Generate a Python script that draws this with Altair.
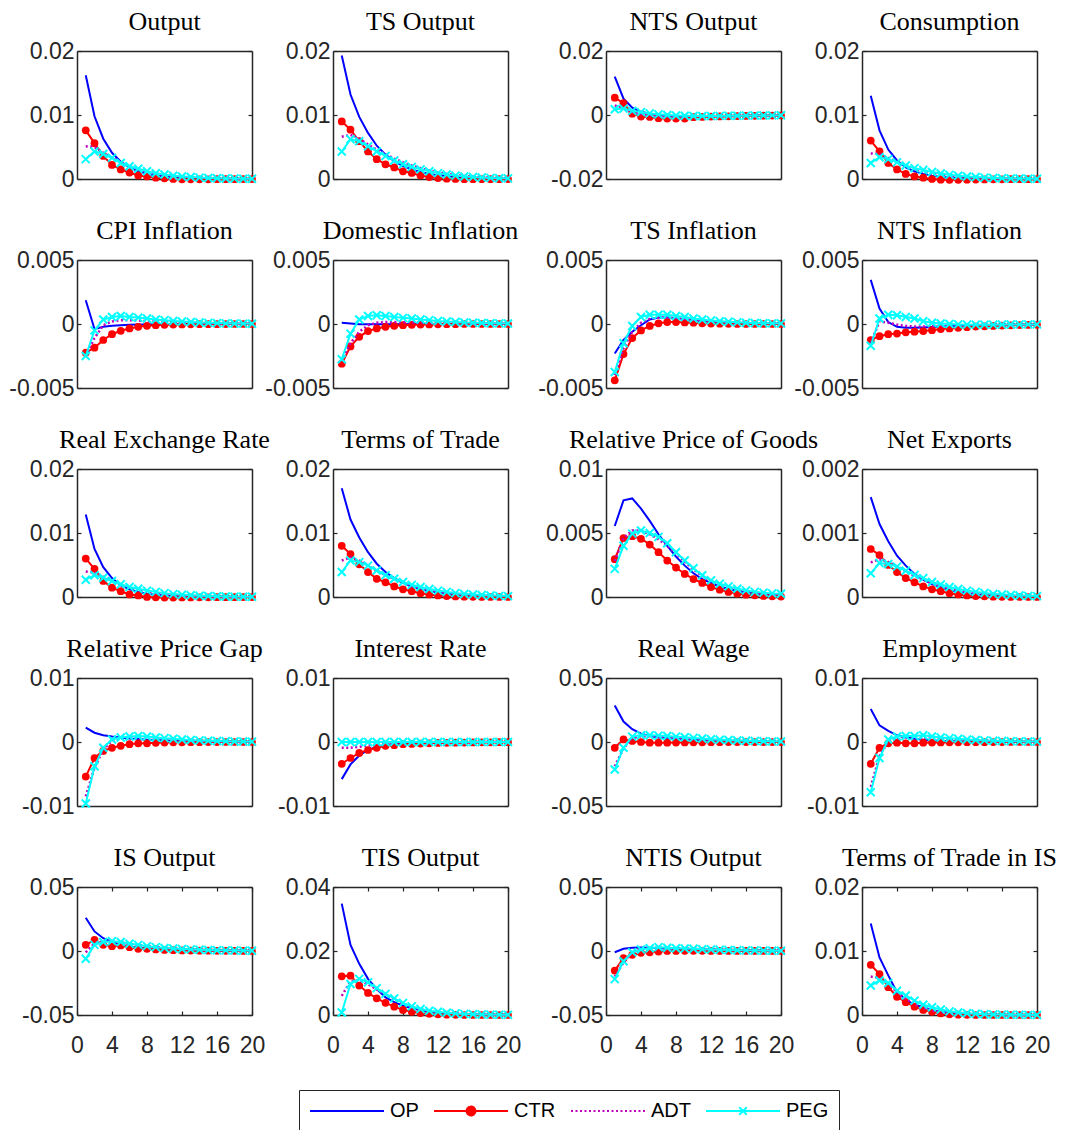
import altair as alt
import pandas as pd

# All series values below are listed in thousandths (multiply by UNIT).
UNIT = 1e-3

PERIODS = list(range(1, 21))
SERIES = ["OP", "CTR", "ADT", "PEG"]
SERIES_COLORS = ["#0000FF", "#FF0000", "#BF00BF", "#00FFFF"]
X_TICKS = [0, 4, 8, 12, 16, 20]

TITLES = [
    "Output", "TS Output", "NTS Output", "Consumption",
    "CPI Inflation", "Domestic Inflation", "TS Inflation", "NTS Inflation",
    "Real Exchange Rate", "Terms of Trade", "Relative Price of Goods", "Net Exports",
    "Relative Price Gap", "Interest Rate", "Real Wage", "Employment",
    "IS Output", "TIS Output", "NTIS Output", "Terms of Trade in IS",
]

Y_TICKS = [
    [0, 0.01, 0.02], [0, 0.01, 0.02], [-0.02, 0, 0.02], [0, 0.01, 0.02],
    [-0.005, 0, 0.005], [-0.005, 0, 0.005], [-0.005, 0, 0.005], [-0.005, 0, 0.005],
    [0, 0.01, 0.02], [0, 0.01, 0.02], [0, 0.005, 0.01], [0, 0.001, 0.002],
    [-0.01, 0, 0.01], [-0.01, 0, 0.01], [-0.05, 0, 0.05], [-0.01, 0, 0.01],
    [-0.05, 0, 0.05], [0, 0.02, 0.04], [-0.05, 0, 0.05], [0, 0.01, 0.02],
]

output = {
    "OP": [16.2, 9.8, 6.3, 4.1, 2.7, 1.8, 1.2, 0.8, 0.55, 0.38, 0.26, 0.18, 0.12, 0.08, 0.06, 0.04, 0.03, 0.02, 0.014, 0.01],
    "CTR": [7.6, 5.6, 3.6, 2.2, 1.5, 1.0, 0.55, 0.4, 0.2, 0.1, 0.0, -0.05, -0.05, -0.05, -0.04, -0.03, -0.02, -0.02, -0.01, -0.01],
    "ADT": [5.1, 5.0, 4.1, 3.3, 2.6, 2.0, 1.5, 1.15, 0.85, 0.65, 0.48, 0.36, 0.27, 0.2, 0.15, 0.11, 0.08, 0.06, 0.045, 0.035],
    "PEG": [3.1, 4.3, 3.9, 3.3, 2.5, 2.0, 1.6, 1.2, 0.9, 0.7, 0.52, 0.4, 0.3, 0.22, 0.16, 0.12, 0.09, 0.07, 0.05, 0.04],
}
ts_output = {
    "OP": [19.3, 13.2, 9.7, 7.2, 5.2, 3.8, 2.8, 2.0, 1.5, 1.1, 0.8, 0.6, 0.42, 0.3, 0.22, 0.16, 0.12, 0.08, 0.06, 0.04],
    "CTR": [9.0, 7.7, 5.9, 4.3, 3.1, 2.3, 1.8, 1.2, 0.95, 0.55, 0.3, 0.15, 0.05, 0.0, -0.03, -0.03, -0.03, -0.02, -0.02, -0.01],
    "ADT": [6.6, 6.9, 6.3, 5.4, 4.6, 3.9, 3.2, 2.6, 2.1, 1.7, 1.3, 1.0, 0.8, 0.6, 0.48, 0.37, 0.28, 0.21, 0.16, 0.12],
    "PEG": [4.3, 6.2, 5.9, 5.1, 4.3, 3.6, 2.9, 2.3, 1.9, 1.5, 1.2, 0.92, 0.7, 0.53, 0.4, 0.3, 0.23, 0.17, 0.13, 0.1],
}
nts_output = {
    "OP": [12.0, 5.1, 2.3, 1.0, 0.4, 0.0, -0.3, -0.45, -0.5, -0.5, -0.45, -0.4, -0.35, -0.3, -0.25, -0.2, -0.16, -0.13, -0.1, -0.08],
    "CTR": [5.4, 3.7, 0.4, -0.5, -0.6, -1.0, -1.1, -1.1, -1.1, -0.7, -0.6, -0.5, -0.45, -0.4, -0.35, -0.3, -0.25, -0.2, -0.17, -0.14],
    "ADT": [3.0, 2.0, 0.9, 0.3, -0.1, -0.35, -0.5, -0.55, -0.55, -0.5, -0.45, -0.4, -0.35, -0.3, -0.25, -0.2, -0.17, -0.14, -0.11, -0.09],
    "PEG": [1.8, 2.0, 1.3, 0.9, 0.5, 0.2, 0.0, -0.15, -0.25, -0.3, -0.3, -0.3, -0.28, -0.25, -0.22, -0.2, -0.17, -0.14, -0.12, -0.1],
}
consumption = {
    "OP": [13.0, 7.6, 4.6, 2.9, 1.8, 1.2, 0.8, 0.5, 0.35, 0.25, 0.17, 0.12, 0.08, 0.06, 0.04, 0.03, 0.02, 0.015, 0.01, 0.01],
    "CTR": [6.0, 4.3, 2.5, 1.5, 0.8, 0.4, 0.2, 0.0, -0.1, -0.12, -0.12, -0.1, -0.08, -0.07, -0.05, -0.04, -0.03, -0.02, -0.02, -0.01],
    "ADT": [4.0, 3.9, 3.3, 2.6, 2.0, 1.5, 1.1, 0.8, 0.6, 0.45, 0.33, 0.24, 0.18, 0.13, 0.1, 0.07, 0.05, 0.04, 0.03, 0.02],
    "PEG": [2.5, 3.4, 3.1, 2.6, 2.1, 1.7, 1.4, 1.1, 0.85, 0.65, 0.5, 0.4, 0.3, 0.22, 0.16, 0.12, 0.09, 0.07, 0.05, 0.04],
}
cpi_inflation = {
    "OP": [1.85, -0.4, -0.22, -0.14, -0.09, -0.06, -0.04, -0.03, -0.02, -0.01, 0, 0, 0, 0, 0, 0, 0, 0, 0, 0],
    "CTR": [-2.24, -1.85, -1.25, -0.8, -0.53, -0.35, -0.22, -0.14, -0.09, -0.06, -0.04, -0.03, -0.02, -0.015, -0.01, -0.01, -0.005, 0, 0, 0],
    "ADT": [-2.5, -1.1, -0.1, 0.2, 0.3, 0.3, 0.27, 0.23, 0.2, 0.17, 0.14, 0.11, 0.09, 0.07, 0.05, 0.04, 0.03, 0.02, 0.02, 0.01],
    "PEG": [-2.5, -0.5, 0.35, 0.55, 0.63, 0.55, 0.5, 0.43, 0.35, 0.3, 0.24, 0.19, 0.15, 0.12, 0.09, 0.07, 0.05, 0.04, 0.03, 0.02],
}
domestic_inflation = {
    "OP": [0.1, 0.04, -0.01, -0.02, -0.02, -0.02, -0.01, -0.01, 0, 0, 0, 0, 0, 0, 0, 0, 0, 0, 0, 0],
    "CTR": [-3.1, -1.75, -1.0, -0.55, -0.35, -0.22, -0.14, -0.09, -0.06, -0.04, -0.03, -0.02, -0.01, -0.01, 0, 0, 0, 0, 0, 0],
    "ADT": [-2.9, -1.5, -0.6, -0.1, 0.1, 0.15, 0.15, 0.13, 0.11, 0.09, 0.07, 0.06, 0.05, 0.04, 0.03, 0.02, 0.02, 0.01, 0.01, 0.01],
    "PEG": [-2.75, -0.75, 0.35, 0.63, 0.68, 0.63, 0.55, 0.48, 0.43, 0.35, 0.3, 0.24, 0.2, 0.16, 0.12, 0.1, 0.08, 0.06, 0.05, 0.04],
}
ts_inflation = {
    "OP": [-2.3, -1.25, -0.6, -0.1, 0.35, 0.5, 0.5, 0.43, 0.35, 0.28, 0.22, 0.17, 0.13, 0.1, 0.08, 0.06, 0.05, 0.04, 0.03, 0.02],
    "CTR": [-4.4, -2.35, -1.1, -0.5, -0.15, 0.05, 0.15, 0.15, 0.12, 0.1, 0.05, 0.03, 0.02, 0.01, 0, 0, 0, 0, 0, 0],
    "ADT": [-4.0, -1.9, -0.6, 0.1, 0.4, 0.5, 0.5, 0.45, 0.4, 0.33, 0.27, 0.22, 0.17, 0.13, 0.1, 0.08, 0.06, 0.05, 0.04, 0.03],
    "PEG": [-3.75, -1.5, -0.15, 0.55, 0.72, 0.72, 0.72, 0.63, 0.55, 0.43, 0.35, 0.28, 0.22, 0.17, 0.13, 0.1, 0.08, 0.06, 0.05, 0.04],
}
nts_inflation = {
    "OP": [3.45, 1.2, 0.15, -0.22, -0.3, -0.3, -0.27, -0.23, -0.2, -0.17, -0.14, -0.12, -0.1, -0.08, -0.07, -0.06, -0.05, -0.04, -0.03, -0.03],
    "CTR": [-1.25, -0.95, -0.8, -0.75, -0.65, -0.6, -0.55, -0.48, -0.4, -0.35, -0.3, -0.25, -0.2, -0.18, -0.15, -0.12, -0.1, -0.08, -0.07, -0.06],
    "ADT": [-1.5, 0.2, 0.1, -0.05, -0.15, -0.2, -0.2, -0.18, -0.16, -0.14, -0.12, -0.1, -0.09, -0.08, -0.07, -0.06, -0.05, -0.04, -0.03, -0.03],
    "PEG": [-1.7, 0.43, 0.72, 0.68, 0.55, 0.43, 0.22, 0.1, 0.04, 0.0, -0.03, -0.05, -0.05, -0.05, -0.05, -0.04, -0.04, -0.03, -0.03, -0.03],
}
real_exchange_rate = {
    "OP": [12.9, 7.5, 4.65, 2.95, 1.8, 1.2, 0.8, 0.5, 0.35, 0.25, 0.17, 0.12, 0.08, 0.06, 0.04, 0.03, 0.02, 0.015, 0.01, 0.01],
    "CTR": [6.0, 4.4, 2.5, 1.45, 0.9, 0.4, 0.25, 0.0, -0.05, -0.08, -0.08, -0.07, -0.06, -0.05, -0.04, -0.03, -0.02, -0.02, -0.01, -0.01],
    "ADT": [4.0, 3.8, 3.2, 2.5, 1.9, 1.45, 1.1, 0.8, 0.6, 0.45, 0.33, 0.25, 0.18, 0.13, 0.1, 0.07, 0.05, 0.04, 0.03, 0.02],
    "PEG": [2.7, 3.4, 3.0, 2.5, 2.0, 1.55, 1.3, 1.0, 0.8, 0.6, 0.45, 0.35, 0.27, 0.2, 0.15, 0.11, 0.08, 0.06, 0.05, 0.04],
}
terms_of_trade = {
    "OP": [17.0, 12.1, 9.3, 7.0, 5.2, 3.9, 2.95, 2.2, 1.6, 1.2, 0.9, 0.65, 0.5, 0.35, 0.25, 0.18, 0.13, 0.1, 0.07, 0.05],
    "CTR": [8.0, 6.7, 5.1, 3.9, 2.85, 2.3, 1.65, 1.2, 0.9, 0.6, 0.4, 0.25, 0.15, 0.08, 0.04, 0.02, 0.0, 0.0, 0.0, 0.0],
    "ADT": [5.7, 6.2, 5.7, 4.9, 4.1, 3.4, 2.8, 2.3, 1.8, 1.45, 1.15, 0.9, 0.7, 0.55, 0.42, 0.33, 0.25, 0.2, 0.15, 0.12],
    "PEG": [3.9, 5.7, 5.45, 4.9, 4.15, 3.4, 2.85, 2.35, 1.9, 1.55, 1.25, 1.0, 0.8, 0.6, 0.48, 0.38, 0.3, 0.23, 0.18, 0.14],
}
relative_price_goods = {
    "OP": [5.55, 7.55, 7.7, 6.9, 5.95, 4.9, 4.0, 3.15, 2.45, 1.85, 1.4, 1.1, 0.8, 0.65, 0.45, 0.38, 0.25, 0.2, 0.15, 0.1],
    "CTR": [2.95, 4.6, 4.75, 4.55, 4.1, 3.5, 2.85, 2.3, 1.8, 1.4, 1.1, 0.78, 0.57, 0.4, 0.26, 0.18, 0.13, 0.08, 0.05, 0.03],
    "ADT": [2.8, 4.6, 5.2, 5.2, 4.9, 4.5, 4.0, 3.4, 2.75, 2.15, 1.65, 1.25, 0.95, 0.75, 0.58, 0.45, 0.35, 0.28, 0.22, 0.18],
    "PEG": [2.2, 4.0, 4.95, 5.2, 5.0, 4.7, 4.2, 3.5, 2.85, 2.25, 1.7, 1.3, 1.03, 0.83, 0.65, 0.52, 0.4, 0.34, 0.28, 0.25],
}
net_exports = {
    "OP": [1.56, 1.14, 0.87, 0.645, 0.49, 0.36, 0.27, 0.2, 0.15, 0.11, 0.08, 0.06, 0.045, 0.033, 0.025, 0.018, 0.013, 0.01, 0.007, 0.005],
    "CTR": [0.75, 0.655, 0.5, 0.39, 0.295, 0.23, 0.165, 0.12, 0.09, 0.06, 0.04, 0.025, 0.015, 0.01, 0.005, 0.002, 0, 0, 0, 0],
    "ADT": [0.54, 0.59, 0.55, 0.48, 0.4, 0.33, 0.27, 0.22, 0.175, 0.14, 0.11, 0.085, 0.065, 0.05, 0.04, 0.03, 0.023, 0.018, 0.014, 0.01],
    "PEG": [0.37, 0.53, 0.515, 0.475, 0.41, 0.345, 0.295, 0.235, 0.195, 0.155, 0.125, 0.1, 0.08, 0.062, 0.048, 0.038, 0.03, 0.023, 0.018, 0.014],
}
relative_price_gap = {
    "OP": [2.25, 1.45, 1.05, 0.85, 0.7, 0.55, 0.45, 0.37, 0.3, 0.25, 0.2, 0.16, 0.13, 0.1, 0.08, 0.07, 0.05, 0.04, 0.03, 0.03],
    "CTR": [-5.4, -2.5, -1.4, -0.9, -0.6, -0.35, -0.2, -0.2, -0.12, -0.08, -0.05, -0.04, -0.03, -0.02, -0.01, -0.01, 0, 0, 0, 0],
    "ADT": [-8.5, -4.0, -1.2, 0.2, 0.5, 0.55, 0.55, 0.48, 0.42, 0.36, 0.3, 0.25, 0.2, 0.16, 0.13, 0.1, 0.08, 0.06, 0.05, 0.04],
    "PEG": [-9.6, -3.8, -0.9, 0.4, 0.7, 0.85, 0.95, 0.85, 0.7, 0.6, 0.5, 0.4, 0.3, 0.25, 0.2, 0.15, 0.12, 0.09, 0.07, 0.05],
}
interest_rate = {
    "OP": [-5.8, -3.5, -2.1, -1.25, -0.75, -0.45, -0.3, -0.2, -0.12, -0.08, -0.05, -0.03, -0.02, -0.01, -0.01, 0, 0, 0, 0, 0],
    "CTR": [-3.4, -2.5, -1.7, -1.25, -0.9, -0.6, -0.5, -0.35, -0.3, -0.25, -0.2, -0.15, -0.12, -0.1, -0.08, -0.06, -0.05, -0.04, -0.03, -0.02],
    "ADT": [-0.9, -0.9, -0.75, -0.55, -0.4, -0.3, -0.22, -0.16, -0.12, -0.09, -0.07, -0.05, -0.04, -0.03, -0.02, -0.02, -0.01, -0.01, -0.01, 0],
    "PEG": [0, 0, 0, 0, 0, 0, 0, 0, 0, 0, 0, 0, 0, 0, 0, 0, 0, 0, 0, 0],
}
real_wage = {
    "OP": [28.5, 16.0, 10.0, 6.5, 4.7, 3.5, 3.0, 2.5, 2.0, 1.7, 1.4, 1.1, 0.9, 0.75, 0.6, 0.5, 0.4, 0.3, 0.25, 0.2],
    "CTR": [-4.5, 2.0, 0.8, 0.0, -0.5, -0.5, -0.5, -0.4, -0.3, -0.25, -0.2, -0.15, -0.1, -0.08, -0.06, -0.05, -0.04, -0.03, -0.02, -0.02],
    "ADT": [-19.0, -5.0, 3.0, 4.5, 4.5, 4.0, 3.6, 3.2, 2.8, 2.4, 2.0, 1.7, 1.4, 1.2, 1.0, 0.8, 0.65, 0.5, 0.4, 0.32],
    "PEG": [-21.5, -4.5, 4.2, 5.3, 5.3, 5.0, 4.7, 4.2, 3.7, 3.2, 2.7, 2.2, 1.8, 1.5, 1.2, 1.0, 0.8, 0.6, 0.5, 0.4],
}
employment = {
    "OP": [5.15, 2.6, 1.75, 1.05, 0.7, 0.5, 0.35, 0.25, 0.18, 0.13, 0.1, 0.07, 0.05, 0.04, 0.03, 0.02, 0.015, 0.01, 0.01, 0.01],
    "CTR": [-3.4, -0.9, -0.2, -0.1, -0.2, -0.2, -0.1, -0.08, -0.06, -0.05, -0.04, -0.03, -0.02, -0.02, -0.01, -0.01, 0, 0, 0, 0],
    "ADT": [-7.0, -2.2, 0.1, 0.6, 0.7, 0.7, 0.65, 0.55, 0.47, 0.4, 0.33, 0.27, 0.22, 0.18, 0.14, 0.11, 0.09, 0.07, 0.05, 0.04],
    "PEG": [-7.85, -2.5, 0.4, 0.85, 0.95, 0.95, 1.05, 0.85, 0.7, 0.6, 0.5, 0.4, 0.32, 0.25, 0.2, 0.15, 0.12, 0.1, 0.08, 0.06],
}
is_output = {
    "OP": [26.0, 15.3, 10.0, 7.0, 4.8, 3.5, 2.5, 2.0, 1.5, 1.2, 0.9, 0.7, 0.55, 0.45, 0.35, 0.28, 0.22, 0.18, 0.14, 0.11],
    "CTR": [4.8, 8.7, 4.8, 3.8, 4.3, 3.0, 1.7, 1.7, 1.2, 0.8, 0.6, 0.45, 0.35, 0.28, 0.22, 0.17, 0.13, 0.1, 0.08, 0.06],
    "ADT": [-1.0, 6.0, 7.5, 7.2, 6.6, 5.5, 4.6, 3.7, 3.0, 2.4, 1.9, 1.5, 1.2, 0.95, 0.75, 0.6, 0.47, 0.37, 0.3, 0.24],
    "PEG": [-6.0, 4.8, 7.0, 7.7, 7.0, 5.6, 4.8, 3.8, 3.0, 2.4, 2.0, 1.6, 1.3, 1.0, 0.8, 0.6, 0.5, 0.4, 0.3, 0.2],
}
tis_output = {
    "OP": [34.8, 21.9, 16.0, 11.3, 8.1, 5.5, 4.0, 2.9, 2.1, 1.5, 1.05, 0.75, 0.5, 0.35, 0.25, 0.18, 0.12, 0.09, 0.06, 0.04],
    "CTR": [12.1, 12.3, 9.2, 6.9, 5.2, 3.8, 2.6, 1.6, 1.0, 0.6, 0.35, 0.2, 0.1, 0.05, 0.0, 0.0, 0, 0, 0, 0],
    "ADT": [6.0, 10.5, 10.8, 9.6, 8.0, 6.4, 4.9, 3.6, 2.6, 1.8, 1.25, 0.85, 0.55, 0.38, 0.25, 0.17, 0.12, 0.08, 0.05, 0.03],
    "PEG": [0.8, 9.7, 11.3, 10.2, 8.4, 6.6, 5.2, 3.8, 2.7, 1.9, 1.35, 1.0, 0.7, 0.5, 0.35, 0.25, 0.17, 0.12, 0.08, 0.05],
}
ntis_output = {
    "OP": [-1.0, 1.7, 2.5, 2.7, 2.5, 2.2, 2.0, 1.7, 1.5, 1.3, 1.1, 0.9, 0.75, 0.6, 0.5, 0.4, 0.33, 0.27, 0.22, 0.18],
    "CTR": [-15.3, -5.6, -3.0, -1.4, -1.0, -0.4, 0.0, 0.0, 0.1, 0.1, 0.1, 0.08, 0.06, 0.05, 0.04, 0.03, 0.02, 0.02, 0.01, 0.01],
    "ADT": [-20.0, -9.0, -1.0, 2.0, 2.5, 2.6, 2.4, 2.2, 2.0, 1.7, 1.4, 1.2, 1.0, 0.8, 0.65, 0.5, 0.4, 0.33, 0.26, 0.2],
    "PEG": [-22.0, -8.0, -1.0, 1.2, 2.2, 3.0, 2.5, 2.2, 2.0, 1.7, 1.4, 1.2, 1.0, 0.8, 0.6, 0.5, 0.4, 0.3, 0.2, 0.2],
}
terms_of_trade_is = {
    "OP": [14.3, 9.0, 6.2, 3.55, 2.4, 1.6, 1.2, 0.8, 0.5, 0.35, 0.25, 0.15, 0.1, 0.07, 0.05, 0.03, 0.02, 0.01, 0.01, 0.0],
    "CTR": [7.85, 6.4, 4.35, 2.85, 2.0, 1.3, 0.8, 0.5, 0.25, 0.1, 0.05, 0.02, 0, 0, 0, 0, 0, 0, 0, 0],
    "ADT": [6.0, 5.8, 4.8, 3.6, 2.5, 1.7, 1.1, 0.7, 0.45, 0.28, 0.18, 0.12, 0.08, 0.05, 0.03, 0.02, 0.01, 0.01, 0, 0],
    "PEG": [4.6, 5.4, 5.0, 3.8, 3.05, 2.25, 1.6, 1.2, 0.85, 0.57, 0.4, 0.28, 0.2, 0.13, 0.09, 0.06, 0.04, 0.03, 0.02, 0.01],
}

PANEL_DATA = [
    output, ts_output, nts_output, consumption,
    cpi_inflation, domestic_inflation, ts_inflation, nts_inflation,
    real_exchange_rate, terms_of_trade, relative_price_goods, net_exports,
    relative_price_gap, interest_rate, real_wage, employment,
    is_output, tis_output, ntis_output, terms_of_trade_is,
]

# ---- styling ----
FRAME = "#262626"
PW, PH = 175, 128
WIDE = 17           # the second column sits a little further from the third
TICK_FONT = "Liberation Sans"
TITLE_FONT = "Liberation Serif"
LEGEND_FONT = "Liberation Sans"

# legend keys: a 74px line (symbol unit = 10px) with the series marker in the middle
LEGEND_PATHS = [
    "M-1,0L6.4,0",
    "M-1,0L6.4,0M2.26,0A0.44,0.44,0,1,1,3.14,0A0.44,0.44,0,1,1,2.26,0Z",
    "M-1,0L6.4,0",
    "M-1,0L6.4,0M2.32,-0.38L3.08,0.38M2.32,0.38L3.08,-0.38",
]
LEGEND_DASH = [[1, 0], [1, 0], [2, 2.5], [1, 0]]


def axis(**kw):
    base = dict(domainColor=FRAME, domainWidth=1.5, tickColor=FRAME, tickWidth=1.2,
                tickSize=4, grid=False, title=None, labelFlush=False, labelOverlap=False,
                labelBound=False)
    base.update(kw)
    return alt.Axis(**base)


def make_panel(idx):
    row, col = divmod(idx, 4)
    bottom = row == 4
    W = PW + (WIDE if col == 1 else 0)
    data = PANEL_DATA[idx]
    recs = [{"t": t, "v": v * UNIT, "s": s}
            for s in SERIES for t, v in zip(PERIODS, data[s])]
    df = pd.DataFrame(recs)
    ticks = Y_TICKS[idx]
    xs = alt.Scale(domain=[0, 20], range=[0, PW], nice=False, zero=False)
    ys = alt.Scale(domain=[ticks[0], ticks[-1]], nice=False, zero=False)

    y_main = axis(orient="left", values=ticks, ticks=False, domain=True, labels=True,
                  labelExpr="'' + datum.value", labelFont=TICK_FONT, labelFontSize=23,
                  labelColor=FRAME, labelPadding=3)
    y_in_left = axis(orient="right", offset=-W, values=ticks, ticks=True,
                     domain=False, labels=False)
    y_right = axis(orient="left", offset=-PW, values=ticks, ticks=True,
                   domain=True, labels=False)
    x_main = axis(orient="bottom", values=X_TICKS, ticks=False, domain=True,
                  labels=bottom, labelFont=TICK_FONT, labelFontSize=23,
                  labelColor=FRAME, labelPadding=19)
    x_in_bottom = (axis(orient="top", offset=-PH, values=X_TICKS, ticks=True,
                        domain=False, labels=False) if bottom else None)
    x_top = axis(orient="bottom", offset=-PH, values=X_TICKS, ticks=bottom,
                 domain=True, labels=False)

    def X(ax):
        return alt.X("t:Q", scale=xs, axis=ax)

    def Y(ax):
        return alt.Y("v:Q", scale=ys, axis=ax)

    base = alt.Chart(df)

    def sub(s):
        return base.transform_filter(alt.datum.s == s)

    op = sub("OP").mark_line(color=SERIES_COLORS[0], strokeWidth=2).encode(
        x=X(x_main), y=Y(y_main))
    ctr = sub("CTR").mark_line(color=SERIES_COLORS[1], strokeWidth=2).encode(
        x=X(x_in_bottom), y=Y(y_in_left))
    ctr_pts = sub("CTR").mark_point(color=SERIES_COLORS[1], filled=True, size=60,
                                    opacity=1).encode(x=X(x_top), y=Y(y_right))
    adt = sub("ADT").mark_line(color=SERIES_COLORS[2], strokeWidth=2.5,
                               strokeDash=[2, 2.5]).encode(x=X(None), y=Y(None))
    peg = sub("PEG").mark_line(color=SERIES_COLORS[3], strokeWidth=2).encode(
        x=X(None), y=Y(None))
    peg_pts = sub("PEG").mark_point(color=SERIES_COLORS[3], filled=False, size=64,
                                    strokeWidth=2, opacity=1,
                                    shape="M-1,-1L1,1M-1,1L1,-1").encode(
        x=X(None), y=Y(None))

    layers = [op, ctr, ctr_pts, adt, peg, peg_pts]

    if idx == 0:
        leg = alt.Legend(title=None, orient="none", legendX=222, legendY=1039,
                         direction="horizontal", symbolSize=400, symbolStrokeWidth=2,
                         labelFont=LEGEND_FONT, labelFontSize=20, labelColor="#000000",
                         labelOffset=59, columnPadding=11, padding=10,
                         strokeColor=FRAME, fillColor="#FFFFFF", labelLimit=200)
        leg_df = pd.DataFrame({"s": SERIES})
        legend_layer = alt.Chart(leg_df).transform_filter("false").mark_point(
            filled=True, opacity=1).encode(
            fill=alt.Fill("s:N", scale=alt.Scale(domain=SERIES, range=SERIES_COLORS), legend=leg),
            stroke=alt.Stroke("s:N", scale=alt.Scale(domain=SERIES, range=SERIES_COLORS), legend=leg),
            shape=alt.Shape("s:N", scale=alt.Scale(domain=SERIES, range=LEGEND_PATHS), legend=leg),
            strokeDash=alt.StrokeDash("s:N", scale=alt.Scale(domain=SERIES, range=LEGEND_DASH), legend=leg),
        )
        layers.append(legend_layer)

    title = alt.TitleParams(text=TITLES[idx], font=TITLE_FONT, fontSize=26,
                            fontWeight="normal", color="#000000", baseline="alphabetic",
                            offset=20, dy=36, anchor="middle", dx=-(W - PW) / 2)
    return alt.layer(*layers).properties(width=W, height=PH, title=title).resolve_axis(
        x="independent", y="independent")


panels = [make_panel(i) for i in range(20)]

chart = alt.concat(*panels, columns=4, spacing=81, bounds="flush", align="each").properties(
    padding={"left": 0, "top": 0, "right": 0, "bottom": 0},
    background="#FFFFFF",
).configure_view(stroke="transparent")

chart.save("out.html", embed_options={"renderer": "svg", "actions": False})
